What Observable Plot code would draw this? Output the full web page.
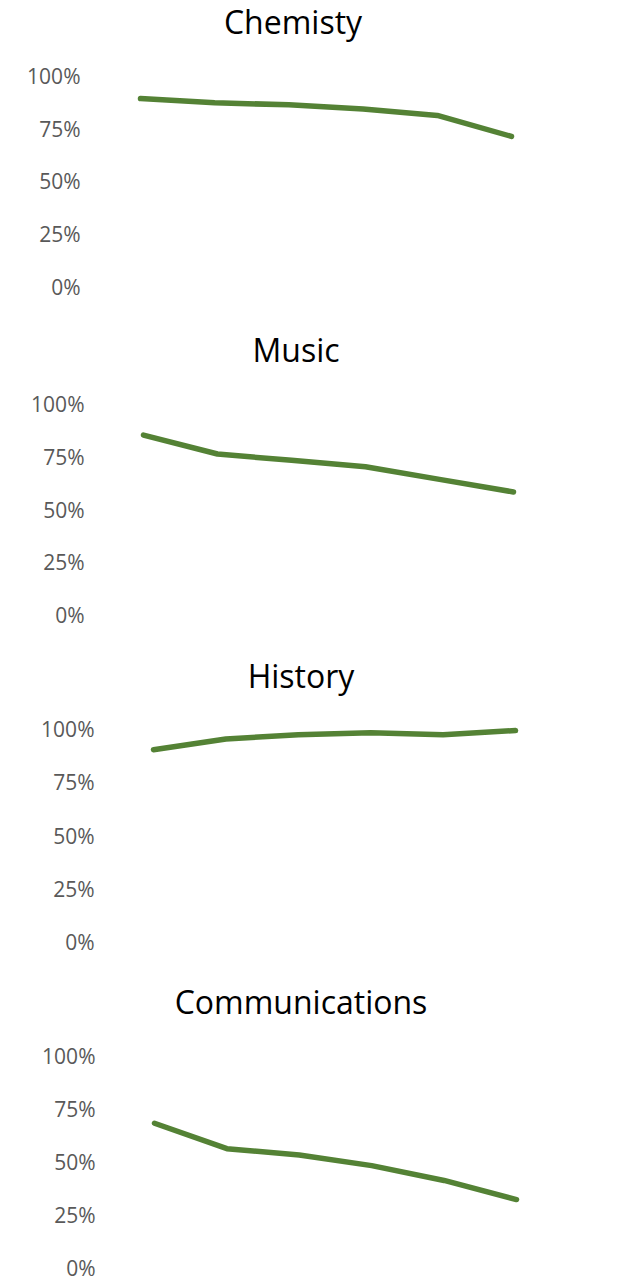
<!DOCTYPE html>
<html>
<head>
<meta charset="utf-8">
<script src="https://cdn.jsdelivr.net/npm/d3@7"></script>
<script src="https://cdn.jsdelivr.net/npm/@observablehq/plot@0.6"></script>
<style>
  html, body { margin: 0; padding: 0; background: #fff; }
  #root { position: relative; width: 621px; height: 1283px; overflow: hidden; font-family: "Open Sans", sans-serif; }
  .title { position: absolute; width: 400px; height: 44px; line-height: 44px; text-align: center; font-size: 32px; color: #000; white-space: nowrap; }
  .panel { position: absolute; left: 0; }
</style>
</head>
<body>
<div id="root"></div>
<script>
// ---- data ----
const subjects = ["Chemisty", "Music", "History", "Communications"];
const periods = [1, 2, 3, 4, 5, 6];
const chemisty = [0.90, 0.88, 0.87, 0.85, 0.82, 0.72];
const music = [0.86, 0.77, 0.74, 0.71, 0.65, 0.59];
const history = [0.91, 0.96, 0.98, 0.99, 0.98, 1.00];
const communications = [0.69, 0.57, 0.54, 0.49, 0.42, 0.33];
const yTicks = [0, 0.25, 0.5, 0.75, 1];

const series = [chemisty, music, history, communications];

// ---- layout (pixel positions per panel) ----
const layout = [
  {labelRight: 80, xStart: 140, xEnd: 511, y100: 77, y0: 287.5, titleY: 22, titleX: 293},
  {labelRight: 84, xStart: 143, xEnd: 513, y100: 405, y0: 616, titleY: 350, titleX: 296},
  {labelRight: 94, xStart: 153, xEnd: 515, y100: 730, y0: 943, titleY: 676, titleX: 301},
  {labelRight: 95, xStart: 154, xEnd: 516, y100: 1057, y0: 1269, titleY: 1002, titleX: 301}
];

const root = document.getElementById("root");

subjects.forEach((name, i) => {
  const L = layout[i];
  const title = document.createElement("div");
  title.className = "title";
  title.style.top = (L.titleY - 22) + "px";
  title.style.left = (L.titleX - 200) + "px";
  title.textContent = name;
  root.appendChild(title);

  const data = periods.map((p, j) => ({period: p, value: series[i][j]}));
  const mTop = 20, mBottom = 14;
  const h = (L.y0 - L.y100) + mTop + mBottom;
  const chart = Plot.plot({
    width: 621,
    height: h,
    marginLeft: L.xStart,
    marginRight: 621 - L.xEnd,
    marginTop: mTop,
    marginBottom: mBottom,
    style: {fontFamily: "Open Sans, sans-serif", fontSize: "21px", background: "transparent", overflow: "visible"},
    x: {domain: [periods[0], periods[periods.length - 1]], axis: null},
    y: {domain: [0, 1], axis: null},
    marks: [
      Plot.axisY({
        ticks: yTicks,
        tickFormat: d3.format(".0%"),
        tickSize: 0,
        tickPadding: L.xStart - L.labelRight,
        fill: "#595959",
        fontSize: 21,
        label: null
      }),
      Plot.line(data, {x: "period", y: "value", stroke: "#548235", strokeWidth: 5.5, strokeLinecap: "round", strokeLinejoin: "round"})
    ]
  });
  const wrap = document.createElement("div");
  wrap.className = "panel";
  wrap.style.top = (L.y100 - mTop) + "px";
  wrap.appendChild(chart);
  root.appendChild(wrap);
});
</script>
</body>
</html>
